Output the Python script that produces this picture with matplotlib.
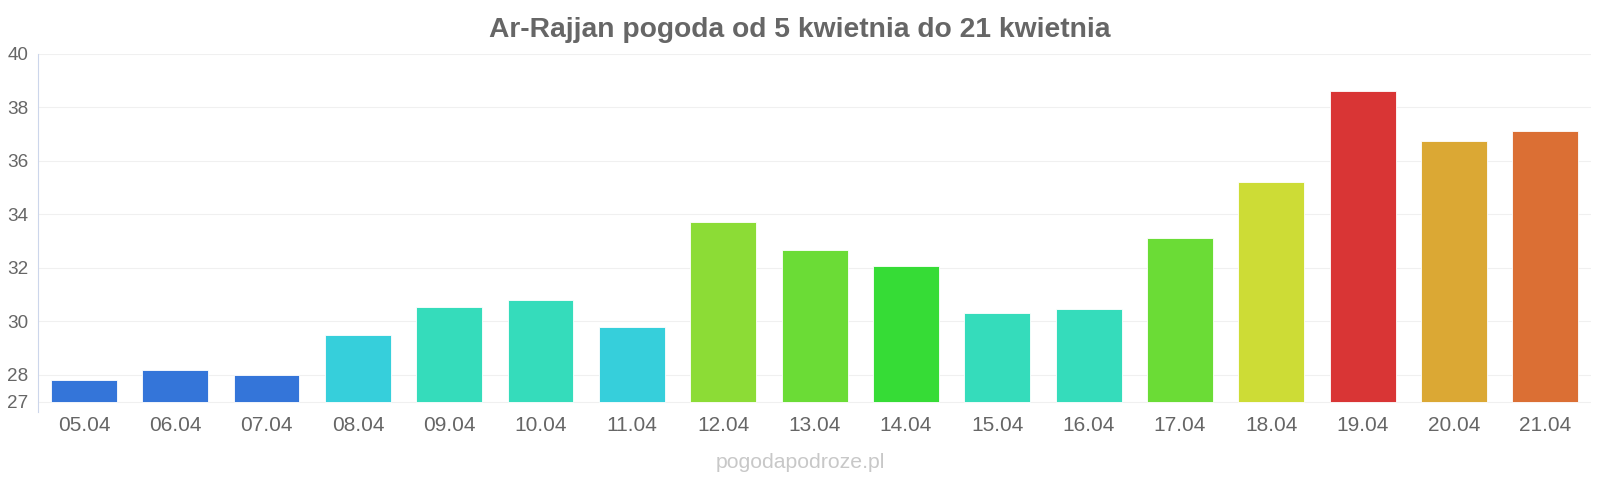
import matplotlib.pyplot as plt

plt.rcParams['font.family'] = ['Liberation Sans', 'DejaVu Sans']

days = ['05.04', '06.04', '07.04', '08.04', '09.04', '10.04', '11.04', '12.04', '13.04',
        '14.04', '15.04', '16.04', '17.04', '18.04', '19.04', '20.04', '21.04']
temps = [27.8, 28.2, 28.0, 29.5, 30.55, 30.8, 29.8, 33.7, 32.65,
         32.05, 30.3, 30.45, 33.1, 35.2, 38.6, 36.75, 37.1]
colors = ['#3475d9', '#3475d9', '#3475d9', '#36cfdb', '#35dcbb', '#35dcbb', '#36cfdb',
          '#8cdc36', '#6bdc36', '#36dc36', '#35dcbb', '#35dcbb', '#6bdc36', '#cddc36',
          '#d93535', '#dba834', '#db6f34']
yticks = [27, 28, 30, 32, 34, 36, 38, 40]
base = 27

fig = plt.figure(figsize=(16, 4.8), dpi=100)
ax = fig.add_axes([0.0239, 0.1423, 0.9705, 0.7462])

x = range(len(days))
heights = [t - base for t in temps]
ax.bar(x, heights, bottom=base, width=0.72, color=colors, edgecolor='#ffffff',
       linewidth=0.6, zorder=3)

ax.set_xlim(-0.5, len(days) - 0.5)
ax.set_ylim(26.63, 40)
ax.set_yticks(yticks)
ax.set_xticks(list(x))
ax.set_xticklabels(days)
ax.tick_params(axis='both', length=0, labelcolor='#666666')
ax.tick_params(axis='y', pad=7, labelsize=13.6)
ax.tick_params(axis='x', pad=3, labelsize=15)
ax.grid(axis='y', color='#f0f0f0', linewidth=0.8, zorder=0)
for s in ['top', 'right', 'bottom']:
    ax.spines[s].set_visible(False)
ax.spines['left'].set_color('#ccd6eb')

fig.text(0.5, 0.938, 'Ar-Rajjan pogoda od 5 kwietnia do 21 kwietnia', ha='center', va='center',
         fontsize=20.3, fontweight='bold', color='#666666')
fig.text(0.5, 0.036, 'pogodapodroze.pl', ha='center', va='center', fontsize=15.3, color='#c8c8c8')

fig.savefig('out.png', dpi=100)
